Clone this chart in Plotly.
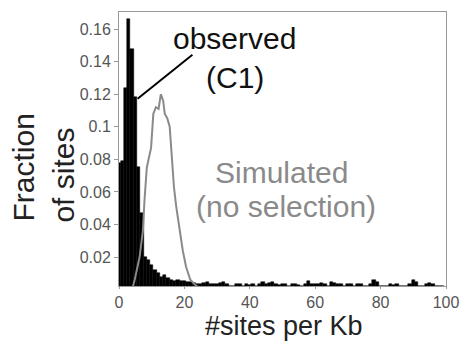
import plotly.graph_objects as go

# ---- data ----
bin_centers = list(range(0, 100))
observed = [
    0.078, 0.079, 0.124, 0.166, 0.148, 0.118, 0.075, 0.047, 0.020, 0.018,
    0.015, 0.012, 0.010, 0.008, 0.009, 0.007, 0.006, 0.005, 0.006, 0.0055,
    0.005, 0.0045, 0.0045, 0.004, 0.0035, 0.0035, 0.004, 0.0045, 0.0035, 0.0035,
    0.0035, 0.004, 0.0045, 0.0035, 0.002, 0.002, 0.0035, 0.0035, 0.002, 0.0035,
    0.003, 0.0035, 0.002, 0.0035, 0.0045, 0.0035, 0.004, 0.0045, 0.0035, 0.003,
    0.0035, 0.0035, 0.002, 0.0035, 0.0035, 0.003, 0.002, 0.0035, 0.005, 0.0035,
    0.0035, 0.0035, 0.004, 0.0035, 0.002, 0.0045, 0.004, 0.0035, 0.0035, 0.002,
    0.0035, 0.0035, 0.002, 0.0035, 0.0035, 0.002, 0.002, 0.0035, 0.006, 0.0045,
    0.002, 0.002, 0.002, 0.0035, 0.003, 0.0035, 0.002, 0.002, 0.002, 0.0035,
    0.006, 0.0045, 0.002, 0.002, 0.0035, 0.004, 0.0035, 0.002, 0.002, 0.002,
]
sim_x = [4.0, 4.8, 6.3, 7.3, 7.8, 8.5, 9.8, 10.5, 11.3, 12.1, 12.8, 13.5, 14.0,
         14.8, 15.5, 16.1, 16.8, 17.5, 18.5, 19.5, 20.5, 21.8, 23.3, 25.0]
sim_y = [0.0, 0.006, 0.020, 0.036, 0.055, 0.075, 0.087, 0.108, 0.112, 0.111,
         0.120, 0.116, 0.108, 0.105, 0.100, 0.083, 0.063, 0.051, 0.037, 0.024,
         0.014, 0.006, 0.003, 0.0]
x_ticks = [0, 20, 40, 60, 80, 100]
y_ticks = [0.02, 0.04, 0.06, 0.08, 0.10, 0.12, 0.14, 0.16]
y_tick_text = ["0.02", "0.04", "0.06", "0.08", "0.1", "0.12", "0.14", "0.16"]

FONT = "Liberation Sans, Arial, sans-serif"
GRAY = "#8a8a8a"

W, H = 470, 343
L, R, T, B = 119, 17, 11, 57
PW, PH = W - L - R, H - T - B


def px(x):
    return (x - L) / PW


def py(y):
    return (H - B - y) / PH


fig = go.Figure()
fig.add_trace(go.Bar(
    x=bin_centers, y=observed, width=1.0,
    marker=dict(color="black", line=dict(color="black", width=0.5)),
    showlegend=False,
))
fig.add_trace(go.Scatter(
    x=sim_x, y=sim_y, mode="lines",
    line=dict(color=GRAY, width=2), showlegend=False,
))

fig.update_layout(
    width=W, height=H,
    margin=dict(l=L, r=R, t=T, b=B, pad=0),
    paper_bgcolor="white", plot_bgcolor="white",
    bargap=0,
    font=dict(family=FONT, color="#444"),
    xaxis=dict(
        range=[0, 100], tickvals=x_ticks, showgrid=False, zeroline=False,
        showline=True, linecolor="#999", linewidth=1, mirror=True,
        ticks="outside", ticklen=2, tickcolor="#999",
        tickfont=dict(size=16, color="#555", family=FONT),
    ),
    yaxis=dict(
        range=[0.0022, 0.1705], tickvals=y_ticks, ticktext=y_tick_text,
        showgrid=False, zeroline=False,
        showline=True, linecolor="#999", linewidth=1, mirror=True,
        ticks="outside", ticklen=4, tickcolor="#999",
        tickfont=dict(size=16, color="#555", family=FONT),
    ),
)

annots = [
    dict(text="Fraction", x=px(21), y=py(167), textangle=-90, size=30, color="#222"),
    dict(text="of sites", x=px(62), y=py(175), textangle=-90, size=30, color="#222"),
    dict(text="#sites per Kb", x=px(288), y=py(326.5), textangle=0, size=27, color="#222"),
    dict(text="observed", x=px(237), y=py(38), textangle=0, size=30, color="#111"),
    dict(text="(C1)", x=px(237), y=py(77), textangle=0, size=30, color="#111"),
    dict(text="Simulated", x=px(285), y=py(172), textangle=0, size=30, color=GRAY),
    dict(text="(no selection)", x=px(290), y=py(206), textangle=0, size=30, color=GRAY),
]
for a in annots:
    fig.add_annotation(
        text=a["text"], x=a["x"], y=a["y"], xref="paper", yref="paper",
        xanchor="center", yanchor="middle", showarrow=False,
        textangle=a["textangle"], borderpad=0,
        font=dict(family=FONT, size=a["size"], color=a["color"]),
    )

fig.add_shape(
    type="line", xref="paper", yref="paper",
    x0=px(138), y0=py(98), x1=px(194), y1=py(54),
    line=dict(color="black", width=2),
)

fig.write_html("out.html")
